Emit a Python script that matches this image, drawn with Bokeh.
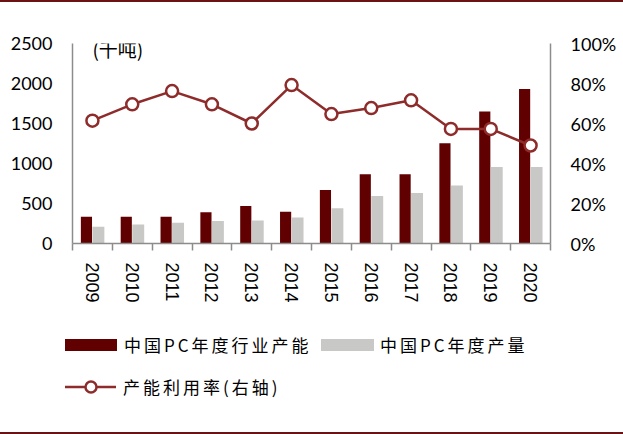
from bokeh.plotting import figure
from bokeh.models import (Range1d, LinearAxis, FixedTicker, NumeralTickFormatter,
                          Label, Div, ColumnDataSource)
from bokeh.layouts import column
from bokeh.embed import file_html
from bokeh.resources import INLINE

years = ["2009", "2010", "2011", "2012", "2013", "2014",
         "2015", "2016", "2017", "2018", "2019", "2020"]
capacity = [334, 334, 334, 392, 470, 396, 668, 866, 866, 1254, 1650, 1931]
production = [210, 239, 260, 281, 288, 326, 442, 594, 631, 726, 957, 957]
utilization = [0.614, 0.696, 0.762, 0.696, 0.600, 0.792, 0.647, 0.677, 0.716, 0.573, 0.573, 0.490]
left_ticks = [0, 500, 1000, 1500, 2000, 2500]
right_ticks = [0, 0.2, 0.4, 0.6, 0.8, 1.0]

name_cap = "中国PC年度行业产能"
name_prod = "中国PC年度产量"
name_util = "产能利用率(右轴)"
unit_text = "(千吨)"

idx = list(range(len(years)))
src = ColumnDataSource(dict(
    xc=[i + 0.35 for i in idx],
    xp=[i + 0.65 for i in idx],
    xm=[i + 0.5 for i in idx],
    cap=capacity, prod=production, util=utilization,
))

DARK = "#600000"
GRAY = "#c8c8c6"
RED = "#8e2b2b"
AXIS = "#8c8c8c"
RULE = "#6b1214"

p = figure(width=623, height=310, x_range=Range1d(0, 12), y_range=Range1d(0, 2500),
           output_backend="svg", toolbar_location=None, margin=0,
           min_border_left=72, min_border_right=73, min_border_top=41, min_border_bottom=69)
p.extra_y_ranges = {"pct": Range1d(0, 1)}
p.grid.visible = False
p.outline_line_color = None

p.vbar(x="xc", top="cap", width=0.28, bottom=0, source=src,
       fill_color=DARK, line_color=None)
p.vbar(x="xp", top="prod", width=0.30, bottom=0, source=src,
       fill_color=GRAY, line_color=None)
p.line(x="xm", y="util", source=src, y_range_name="pct",
       line_color=RED, line_width=2.5)
p.scatter(x="xm", y="util", source=src, y_range_name="pct", size=12,
          fill_color="white", line_color=RED, line_width=2.5)

# bottom axis
xa = p.xaxis[0]
xa.ticker = FixedTicker(ticks=[i + 0.5 for i in idx], minor_ticks=list(range(len(years) + 1)))
xa.major_label_overrides = {i + 0.5: y for i, y in zip(idx, years)}
xa.major_tick_out = 0
xa.major_tick_in = 0
xa.minor_tick_out = 7
xa.minor_tick_in = 0
xa.minor_tick_line_color = AXIS
xa.minor_tick_line_width = 1.5
xa.axis_line_color = AXIS
xa.axis_line_width = 1.5
xa.major_label_orientation = "vertical"
xa.major_label_standoff = 12
xa.major_label_text_font = "Liberation Sans"
xa.major_label_text_font_size = "18px"
xa.major_label_text_color = "#000000"

# left axis
ya = p.yaxis[0]
ya.ticker = FixedTicker(ticks=left_ticks)
ya.major_tick_out = 0
ya.major_tick_in = 0
ya.minor_tick_out = 0
ya.minor_tick_in = 0
ya.axis_line_color = AXIS
ya.axis_line_width = 1.5
ya.major_label_standoff = 20
ya.major_label_text_font = "Lato"
ya.major_label_text_font_size = "18px"
ya.major_label_text_color = "#000000"

# right axis
ra = LinearAxis(y_range_name="pct", ticker=FixedTicker(ticks=right_ticks),
                formatter=NumeralTickFormatter(format="0%"))
ra.major_tick_out = 0
ra.major_tick_in = 0
ra.minor_tick_out = 0
ra.minor_tick_in = 0
ra.axis_line_color = AXIS
ra.axis_line_width = 1.5
ra.major_label_standoff = 20
ra.major_label_text_font = "Lato"
ra.major_label_text_font_size = "18px"
ra.major_label_text_color = "#000000"
p.add_layout(ra, "right")

p.add_layout(Label(x=0.5, y=2440, text=unit_text, text_font="Noto Sans CJK SC",
                   text_font_size="19px", text_baseline="middle", text_align="left",
                   text_color="#000000"))

# legend (HTML)
txt = ("position:absolute;height:20px;line-height:20px;white-space:nowrap;"
       "font-family:'Noto Sans CJK SC';font-size:17px;letter-spacing:3px;color:#000;")
legend_html = f"""
<div style="position:relative;width:623px;height:120px;">
  <div style="position:absolute;left:65px;top:27px;width:52px;height:12px;background:{DARK};"></div>
  <div style="{txt}left:124px;top:23px;">{name_cap}</div>
  <div style="position:absolute;left:321px;top:27px;width:53px;height:12px;background:{GRAY};"></div>
  <div style="{txt}left:380px;top:23px;">{name_prod}</div>
  <svg style="position:absolute;left:60px;top:63px;" width="62" height="24">
    <line x1="5" y1="12" x2="56" y2="12" stroke="{RED}" stroke-width="2.5"/>
    <circle cx="31" cy="12" r="5.5" fill="white" stroke="{RED}" stroke-width="2.5"/>
  </svg>
  <div style="{txt}left:123px;top:65px;">{name_util}</div>
</div>
"""
leg = Div(text=legend_html, width=623, height=120, margin=0)

top = Div(text="", width=623, height=2, margin=0, styles={"background-color": RULE})
bot = Div(text="", width=623, height=2, margin=0, styles={"background-color": RULE})
layout = column(top, p, leg, bot, spacing=0)

open("out.html", "w").write(file_html(layout, INLINE))
